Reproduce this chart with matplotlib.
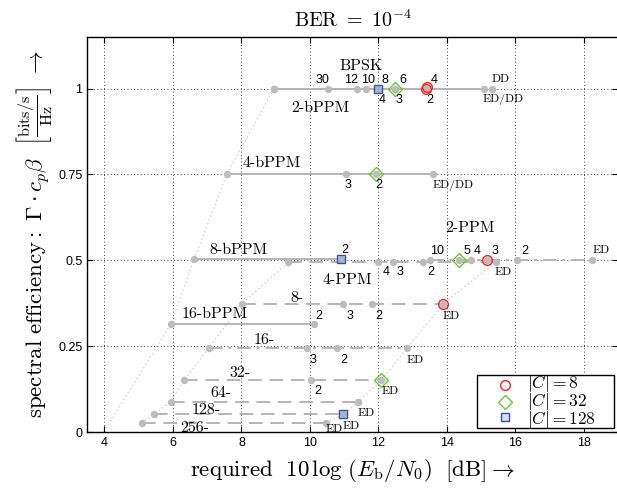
import matplotlib
matplotlib.use("Agg")
import matplotlib.pyplot as plt
from matplotlib.patches import Rectangle

plt.rcParams["mathtext.fontset"] = "cm"
SERIF = "cmr10"
SANS = "Liberation Sans"

# ---- data: required SNR [dB] per operating point, spectral efficiency per scheme ----
bpsk_x = [8.95, 10.54, 11.37, 11.64, 12.0, 12.48, 13.38, 15.32]
bpsk_y = 1.0
bpsk_lbl = ["", "30", "12", "10", "8", "6", "4", "DD"]

bppm2_x = [8.95, 12.0, 12.48, 13.38, 15.08]
bppm2_y = 1.0
bppm2_lbl = ["", "4", "3", "2", "ED/DD"]

bppm4_x = [7.57, 11.04, 11.93, 13.6]
bppm4_y = 0.75
bppm4_lbl = ["", "3", "2", "ED/DD"]

bppm8_x = [6.62, 10.9]
bppm8_y = 0.503
bppm8_lbl = ["", "2"]

ppm2_x = [13.5, 14.35, 14.69, 15.18, 16.05, 18.23]
ppm2_y = 0.5
ppm2_lbl = ["10", "5", "4", "3", "2", "ED"]

ppm4_x = [9.37, 11.99, 12.43, 13.31, 15.42]
ppm4_y = 0.494
ppm4_lbl = ["", "4", "3", "2", "ED"]

ppm8_x = [8.01, 10.97, 11.8, 13.89]
ppm8_y = 0.373
ppm8_lbl = ["", "3", "2", "ED"]

bppm16_x = [5.94, 10.13]
bppm16_y = 0.3144
bppm16_lbl = ["", "2"]

ppm16_x = [7.05, 9.9, 10.78, 12.84]
ppm16_y = 0.245
ppm16_lbl = ["", "3", "2", "ED"]

ppm32_x = [6.33, 10.03, 12.08]
ppm32_y = 0.151
ppm32_lbl = ["", "2", "ED"]

ppm64_x = [5.93, 11.41]
ppm64_y = 0.088
ppm64_lbl = ["", "ED"]

ppm128_x = [5.46, 10.97]
ppm128_y = 0.0515
ppm128_lbl = ["", "ED"]

ppm256_x = [5.09, 10.47]
ppm256_y = 0.027
ppm256_lbl = ["", "ED"]

# code-length markers |C| = 8, 32, 128
c8_x = [13.38, 13.42, 15.18, 13.89]
c8_y = [1.0, 1.005, 0.5, 0.373]
c32_x = [12.48, 11.93, 14.35, 12.08]
c32_y = [1.0, 0.75, 0.5, 0.151]
c128_x = [12.0, 10.9, 10.97]
c128_y = [1.0, 0.503, 0.0515]
legend_labels = [r"$|C| = 8$", r"$|C| = 32$", r"$|C| = 128$"]

# boundary curves through the first / last points of each family
bppm_edge_x = [3.98, 5.94, 6.62, 7.57, 8.95]
bppm_edge_y = [0.0, 0.3144, 0.503, 0.75, 1.0]
ppm_start_x = [5.09, 5.46, 5.93, 6.33, 7.05, 8.01, 9.37]
ppm_start_y = [0.027, 0.0515, 0.088, 0.151, 0.245, 0.373, 0.494]
ppm_ed_x = [10.47, 10.97, 11.41, 12.08, 12.84, 13.89, 15.42]
ppm_ed_y = [0.027, 0.0515, 0.088, 0.151, 0.245, 0.373, 0.494]

GRAY = "#b4b4b4"
DOT = "#bcbcbc"

fig = plt.figure(figsize=(6.17, 4.93), dpi=100)
ax = fig.add_axes([0.1415, 0.1237, 0.8605, 0.8013])
ax.set_xlim(3.5, 19)
ax.set_ylim(0, 1.15)

# boundary curves
for bx, by in [(bppm_edge_x, bppm_edge_y), (ppm_start_x, ppm_start_y), (ppm_ed_x, ppm_ed_y)]:
    ax.plot(bx, by, ls=(0, (1, 2)), color="#d0d0d0", lw=1.0, zorder=1)

DASHDOT = (0, (7, 3, 1.5, 3))
DASHED = (0, (7, 4))
series = [
    # x, y, labels, linestyle, label offsets (dx, dy) in pixels
    (bppm2_x, bppm2_y, bppm2_lbl, "-", [(0, 0), (4, -11), (4, -11), (4, -11), (19, -11)]),
    (bpsk_x, bpsk_y, bpsk_lbl, DASHDOT,
     [(0, 0), (-6, 9), (-6, 9), (2, 9), (6, 9), (8, 9), (8, 9), (8, 9)]),
    (bppm4_x, bppm4_y, bppm4_lbl, "-", [(0, 0), (2, -11), (3, -11), (20, -11)]),
    (bppm8_x, bppm8_y, bppm8_lbl, "-", [(0, 0), (4, 9)]),
    (ppm2_x, ppm2_y, ppm2_lbl, DASHDOT,
     [(7, 9), (8, 9), (7, 9), (8, 9), (8, 9), (9, 10)]),
    (ppm4_x, ppm4_y, ppm4_lbl, DASHED, [(0, 0), (8, -10), (7, -10), (7, -10), (8, -10)]),
    (ppm8_x, ppm8_y, ppm8_lbl, DASHED, [(0, 0), (7, -12), (7, -12), (8, -12)]),
    (bppm16_x, bppm16_y, bppm16_lbl, "-", [(0, 0), (4, 8)]),
    (ppm16_x, ppm16_y, ppm16_lbl, DASHDOT, [(0, 0), (6, -12), (7, -12), (8, -12)]),
    (ppm32_x, ppm32_y, ppm32_lbl, DASHED, [(0, 0), (7, -11), (9, -11)]),
    (ppm64_x, ppm64_y, ppm64_lbl, DASHED, [(0, 0), (8, -11)]),
    (ppm128_x, ppm128_y, ppm128_lbl, DASHED, [(0, 0), (8, -12)]),
    (ppm256_x, ppm256_y, ppm256_lbl, DASHED, [(0, 0), (8, -7)]),
]

for xs, yv, lbls, ls, offs in series:
    ys = [yv] * len(xs)
    ax.plot(xs, ys, ls=ls, color=GRAY, lw=1.4, zorder=2)
    ax.plot(xs, ys, ls="none", marker="o", ms=4.3, color=DOT, mec=DOT, zorder=3)
    for x, t, (dx, dy) in zip(xs, lbls, offs):
        if not t:
            continue
        fam = SANS if t.isdigit() else SERIF
        fs = 9 if t.isdigit() else 8.5
        ax.annotate(t, (x, yv), xytext=(dx, dy), textcoords="offset pixels",
                    ha="center", va="center", fontsize=fs, family=fam, zorder=5)

# |C| markers
m8 = dict(ls="none", marker="o", ms=7, mfc="none", mec="#ff2020", mew=1.0)
m32 = dict(ls="none", marker="D", ms=7, mfc="none", mec="#66cc33", mew=1.0)
m128 = dict(ls="none", marker="s", ms=6, mfc=(0.6, 0.65, 0.8, 0.35), mec="#3050b0", mew=1.0)
ax.plot(c8_x, c8_y, zorder=4, **m8)
ax.plot(c32_x, c32_y, zorder=4, **m32)
ax.plot(c128_x, c128_y, zorder=4, **m128)

# scheme names
names = [
    ("BPSK", 11.49, 1.0655), ("2-bPPM", 10.29, 0.943), ("4-bPPM", 8.88, 0.783),
    ("8-bPPM", 7.9, 0.53), ("2-PPM", 14.67, 0.594), ("4-PPM", 11.08, 0.4425),
    ("8-", 9.61, 0.39), ("16-bPPM", 7.23, 0.3435), ("16-", 8.66, 0.268),
    ("32-", 7.97, 0.1726), ("64-", 7.39, 0.1127), ("128-", 6.98, 0.064),
    ("256-", 6.64, 0.0116),
]
for t, x, y in names:
    ax.text(x, y, t, ha="center", va="center", fontsize=11.5, family=SERIF, zorder=5)

# legend box drawn in axes coordinates
ax.add_patch(Rectangle((0.734, 0.0101), 0.258, 0.1342, transform=ax.transAxes,
                       facecolor="white", edgecolor="black", lw=1.0, zorder=6))
for yy, sty in zip([0.118, 0.0767, 0.0372], [m8, m32, m128]):
    ax.plot([0.787], [yy], transform=ax.transAxes, zorder=7, clip_on=False, **sty)
ax.text(0.828, 0.0772, "\n".join(legend_labels), transform=ax.transAxes,
        ha="left", va="center", fontsize=12.5, linespacing=0.8, zorder=7)

# axes styling
ax.set_xticks([4, 6, 8, 10, 12, 14, 16, 18])
ax.set_yticks([0, 0.25, 0.5, 0.75, 1])
ax.set_yticklabels(["0", "0.25", "0.5", "0.75", "1"])
ax.grid(True, ls=(0, (1, 3)), color="black", lw=0.6)
ax.tick_params(direction="in", top=True, right=True, length=4, width=0.8,
               labelsize=9)
for lab in ax.get_xticklabels() + ax.get_yticklabels():
    lab.set_family(SANS)
for sp in ax.spines.values():
    sp.set_linewidth(1.0)

ax.set_title(r"$\mathrm{BER}\ =\ 10^{-4}$", fontsize=14.5, pad=7)
ax.set_xlabel(r"$\mathrm{required}\ \ 10\,\log\,(E_\mathrm{b}/N_0)\ \ [\mathrm{dB}] \rightarrow$",
              fontsize=16.5, labelpad=6)
ax.set_ylabel(r"$\mathrm{spectral\ efficiency{:}}\ \Gamma \cdot c_p\beta\ \ \left[\frac{\mathrm{bits/s}}{\mathrm{Hz}}\right]\ \rightarrow$",
              fontsize=16.5, labelpad=3)

fig.savefig("out.png", dpi=100)
